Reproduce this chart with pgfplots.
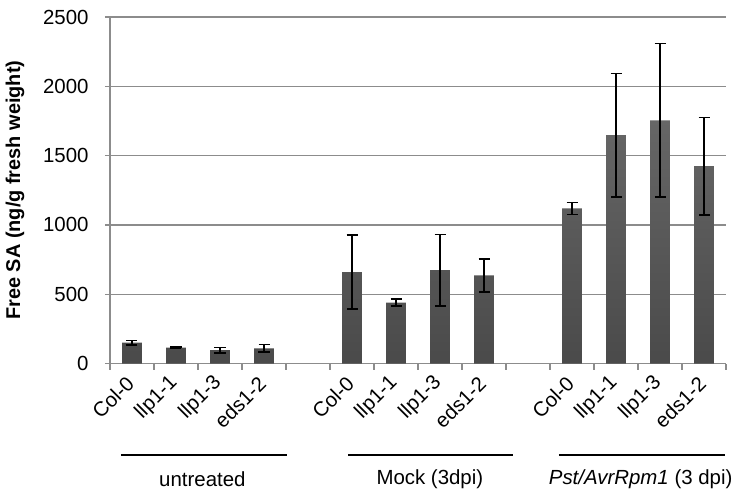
\documentclass[border=0pt]{standalone}
\usepackage{pgfplots}
\pgfplotsset{compat=1.18}
\usepackage{pgfplotstable}
\usepackage{fontspec}
\setmainfont{Liberation Sans}
\definecolor{gridgray}{HTML}{8C8C8C}
\definecolor{bartop}{HTML}{666666}
\definecolor{barbot}{HTML}{4A4A4A}
\pgfplotstableread{
x y err
0 150 15
1 115 5
2 97 20
3 110 27
5 660 266
6 440 25
7 674 258
8 635 120
10 1119 43
11 1647 446
12 1755 555
13 1424 352
}\datatable
\begin{document}
\begin{tikzpicture}[font=\fontsize{20.5}{24}\selectfont]
\begin{axis}[
  scale only axis,
  width=616bp, height=346.5bp,
  xmin=-0.5, xmax=13.5,
  ymin=0, ymax=2500,
  ytick={0,500,1000,1500,2000,2500},
  ymajorgrids,
  grid style={gridgray, line width=1.3bp},
  axis x line=bottom, axis y line=left,
  axis line style={-, gridgray, line width=1.3bp},
  tick align=outside,
  y tick style={gridgray, line width=1.3bp},
  major tick length=5bp,
  xtick={0,1,2,3,5,6,7,8,10,11,12,13},
  xticklabels={Col-0,llp1-1,llp1-3,eds1-2,Col-0,llp1-1,llp1-3,eds1-2,Col-0,llp1-1,llp1-3,eds1-2},
  major x tick style={draw=none},
  minor xtick={-0.5,0.5,...,13.5},
  minor x tick style={gridgray, line width=1.3bp},
  minor tick length=6bp,
  tick label style={font=\fontsize{20.5}{24}\selectfont},
  xticklabel style={rotate=45, anchor=east, xshift=-6bp, yshift=-7bp},
  yticklabel style={xshift=-13bp},
  /pgf/number format/assume math mode=true,
  /pgf/number format/set thousands separator={},
  ylabel={\textbf{Free SA (ng/g fresh weight)}},
  ylabel style={at={(axis description cs:0,0.5)}, anchor=center, yshift=95bp, font=\fontsize{20}{24}\selectfont},
  clip=false,
]
\addplot[ybar, bar width=0.45, draw=none, top color=bartop, bottom color=barbot,
  error bars/.cd, y dir=both, y explicit,
  error bar style={black, line width=1.5bp},
  error mark options={black, rotate=90, mark size=5.5bp, line width=1.5bp}]
  table[x=x, y=y, y error=err] {\datatable};
\draw[black, line width=1.4bp] (axis cs:-0.25,-660) -- (axis cs:3.52,-660);
\draw[black, line width=1.4bp] (axis cs:4.91,-660) -- (axis cs:8.66,-660);
\draw[black, line width=1.4bp] (axis cs:9.70,-660) -- (axis cs:13.48,-660);
\node at (axis cs:1.6,-833) {untreated};
\node at (axis cs:6.77,-833) {Mock (3dpi)};
\node at (axis cs:11.56,-833) {\textit{Pst/AvrRpm1} (3 dpi)};
\end{axis}
\path ([shift={(-110bp,17bp)}]current axis.north west) rectangle ([shift={(14bp,-129bp)}]current axis.south east);
\end{tikzpicture}
\end{document}
